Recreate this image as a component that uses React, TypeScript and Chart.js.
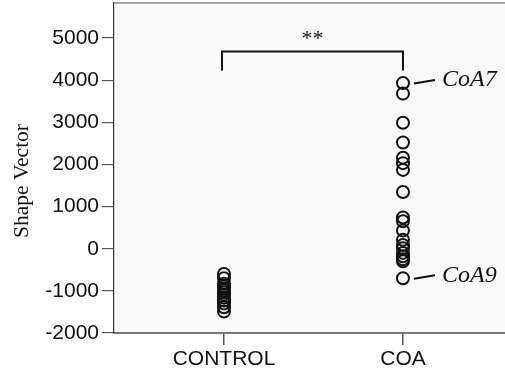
import React, { useEffect, useRef } from "react";
import { Chart, registerables } from "chart.js";

Chart.register(...registerables);

const categories = ["CONTROL", "COA"];
const controlValues = [-600, -700, -830, -890, -940, -990, -1040, -1090, -1160, -1230, -1300, -1390, -1490];
const coaValues = [3930, 3680, 2990, 2520, 2160, 2030, 1870, 1345, 740, 650, 430, 210, 90, 10, -100, -180, -250, -300, -700];
const yTicks = [-2000, -1000, 0, 1000, 2000, 3000, 4000, 5000];
const yMin = -2000;
const yMax = 5830;
const yTitle = "Shape Vector";
const significance = "**";
const bracketTop = 4680;
const bracketBottom = 4230;
const callouts = [
  { label: "CoA7", value: 3930 },
  { label: "CoA9", value: -700 },
];

const overlay = {
  id: "overlay",
  beforeDraw(chart: any) {
    const { ctx, chartArea } = chart;
    ctx.save();
    ctx.fillStyle = "#f9f9f9";
    ctx.fillRect(chartArea.left, chartArea.top, chartArea.right - chartArea.left, chartArea.bottom - chartArea.top);
    ctx.strokeStyle = "#8a8a8a";
    ctx.lineWidth = 1.5;
    ctx.beginPath();
    ctx.moveTo(chartArea.left, chartArea.top);
    ctx.lineTo(chartArea.right, chartArea.top);
    ctx.stroke();
    ctx.restore();
  },
  afterDatasetsDraw(chart: any) {
    const { ctx, scales } = chart;
    const xs = scales.x;
    const ys = scales.y;
    ctx.save();
    // bracket
    const x0 = xs.getPixelForValue(0) - 2;
    const x1 = xs.getPixelForValue(1);
    const yt = ys.getPixelForValue(bracketTop);
    const yb = ys.getPixelForValue(bracketBottom);
    ctx.strokeStyle = "#111";
    ctx.lineWidth = 2;
    ctx.beginPath();
    ctx.moveTo(x0, yb);
    ctx.lineTo(x0, yt);
    ctx.lineTo(x1, yt);
    ctx.lineTo(x1, yb);
    ctx.stroke();
    ctx.fillStyle = "#111";
    ctx.font = "22px 'Liberation Serif'";
    ctx.textAlign = "center";
    ctx.textBaseline = "middle";
    ctx.fillText(significance, (x0 + x1) / 2, yt - 12);
    // callouts
    ctx.font = "italic 24px 'Liberation Serif'";
    ctx.textAlign = "left";
    for (const c of callouts) {
      const py = ys.getPixelForValue(c.value);
      ctx.beginPath();
      ctx.moveTo(x1 + 11, py + 0.5);
      ctx.lineTo(x1 + 32, py - 3);
      ctx.stroke();
      ctx.fillText(c.label, x1 + 39, py - 3);
    }
    // y title
    ctx.font = "21.5px 'Liberation Serif'";
    ctx.textAlign = "center";
    ctx.translate(22, 181);
    ctx.rotate(-Math.PI / 2);
    ctx.fillText(yTitle, 0, 0);
    ctx.restore();
  },
};

export default function App() {
  const ref = useRef<HTMLCanvasElement>(null);
  useEffect(() => {
    if (!ref.current) return;
    const pointStyle = {
      pointRadius: 6,
      pointHoverRadius: 6,
      pointBorderWidth: 2,
      pointBorderColor: "#111",
      pointBackgroundColor: "rgba(0,0,0,0)",
      showLine: false,
    };
    const chart = new Chart(ref.current, {
      type: "scatter",
      data: {
        datasets: [
          { label: categories[0], data: controlValues.map((v) => ({ x: 0, y: v })), ...pointStyle },
          { label: categories[1], data: coaValues.map((v) => ({ x: 1, y: v })), ...pointStyle },
        ],
      },
      options: {
        animation: false,
        responsive: false,
        layout: { autoPadding: false, padding: { top: 3, left: 0, right: 0, bottom: 0 } },
        plugins: { legend: { display: false }, tooltip: { enabled: false } },
        scales: {
          x: {
            type: "linear",
            min: -0.6145,
            max: 1.57,
            afterBuildTicks: (s: any) => {
              s.ticks = categories.map((_, i) => ({ value: i }));
            },
            afterFit: (s: any) => {
              s.height = 43;
              s.paddingLeft = 0;
              s.paddingRight = 0;
            },
            ticks: {
              autoSkip: false,
              maxRotation: 0,
              padding: 2,
              color: "#111",
              font: { family: "'Liberation Sans'", size: 21 },
              callback: (v: any) => categories[v] ?? "",
            },
            grid: { display: true, drawOnChartArea: false, drawTicks: true, tickLength: 12, color: "#555", lineWidth: 1.5 },
            border: { display: true, color: "#777", width: 2 },
          },
          y: {
            min: yMin,
            max: yMax,
            afterBuildTicks: (s: any) => {
              s.ticks = yTicks.map((v) => ({ value: v }));
            },
            afterFit: (s: any) => {
              s.width = 114;
              s.paddingTop = 0;
              s.paddingBottom = 0;
            },
            ticks: {
              autoSkip: false,
              padding: 3,
              color: "#111",
              font: { family: "'Liberation Sans'", size: 21 },
              callback: (v: any) => String(v),
            },
            grid: { display: true, drawOnChartArea: false, drawTicks: true, tickLength: 12, color: "#555", lineWidth: 1.2 },
            border: { display: true, color: "#333", width: 1.2 },
          },
        },
      },
      plugins: [overlay],
    });
    return () => chart.destroy();
  }, []);
  return (
    <div style={{ position: "absolute", left: 0, top: 0, width: 505, height: 376, background: "#fff" }}>
      <canvas ref={ref} width={505} height={376} />
    </div>
  );
}
